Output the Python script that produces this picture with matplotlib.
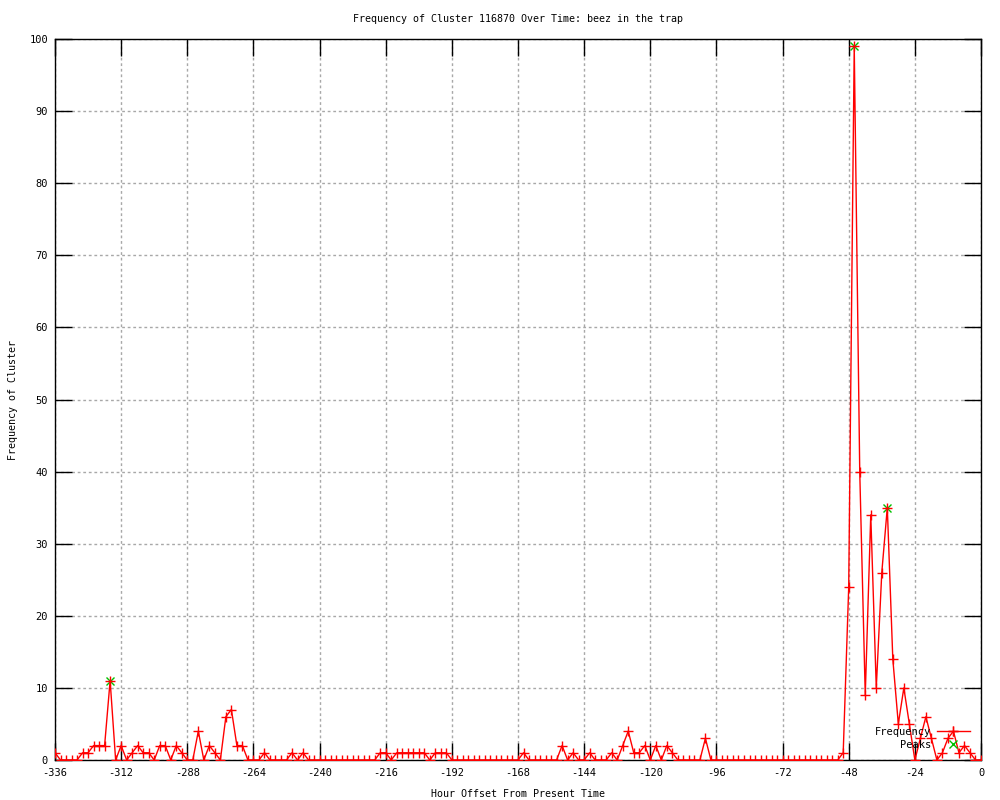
import numpy as np
import matplotlib
matplotlib.use("Agg")
import matplotlib.pyplot as plt

# hourly offsets, one sample every 2 hours
hours = list(range(-336, 1, 2))
freq = [1, 0, 0, 0, 0, 1, 1, 2, 2, 2, 11, 0, 2, 0, 1, 2, 1, 1, 0, 2,
        2, 0, 2, 1, 0, 0, 4, 0, 2, 1, 0, 6, 7, 2, 2, 0, 0, 0, 1, 0,
        0, 0, 0, 1, 0, 1, 0, 0, 0, 0, 0, 0, 0, 0, 0, 0, 0, 0, 0, 1,
        1, 0, 1, 1, 1, 1, 1, 1, 0, 1, 1, 1, 0, 0, 0, 0, 0, 0, 0, 0,
        0, 0, 0, 0, 0, 1, 0, 0, 0, 0, 0, 0, 2, 0, 1, 0, 0, 1, 0, 0,
        0, 1, 0, 2, 4, 1, 1, 2, 0, 2, 0, 2, 1, 0, 0, 0, 0, 0, 3, 0,
        0, 0, 0, 0, 0, 0, 0, 0, 0, 0, 0, 0, 0, 0, 0, 0, 0, 0, 0, 0,
        0, 0, 0, 1, 24, 99, 40, 9, 34, 10, 26, 35, 14, 5, 10, 5, 0, 3, 6, 3,
        0, 1, 3, 4, 1, 2, 1, 0, 0]

peak_hours = [-316, -46, -34]
peak_vals = [11, 99, 35]

xticks = list(range(-336, 1, 24))
yticks = list(range(0, 101, 10))

plt.rcParams['font.family'] = ['DejaVu Sans Mono']
plt.rcParams['font.size'] = 7.5

fig = plt.figure(figsize=(10, 8), dpi=100)
ax = fig.add_axes([0.055, 0.05, 0.926, 0.90125])

ax.plot(hours, freq, color='red', lw=1, marker='+', ms=7, mew=1,
        label='Frequency', zorder=3)
ax.plot(peak_hours, peak_vals, ls='none', color='#00c000', marker='x',
        ms=6, mew=1, label='Peaks', zorder=2)

ax.set_xlim(-336, 0)
ax.set_ylim(0, 100)
ax.set_xticks(xticks)
ax.set_yticks(yticks)
ax.set_xticklabels([str(t) for t in xticks])
ax.tick_params(direction='in', length=12, width=1, top=True, right=True,
               labeltop=False, labelright=False)
ax.tick_params(axis='x', pad=6)
ax.tick_params(axis='y', pad=5)
ax.grid(True, color='#a8a8a8', ls=(0, (2, 2)), lw=1)
for s in ax.spines.values():
    s.set_linewidth(1)

ax.set_title('Frequency of Cluster 116870 Over Time: beez in the trap',
             fontsize=7.2, pad=12)
ax.set_xlabel('Hour Offset From Present Time', fontsize=7.2, labelpad=8)
ax.set_ylabel('Frequency of Cluster', fontsize=7.2, labelpad=8)

ax.legend(loc='center right', bbox_to_anchor=(0.988, 0.03), frameon=False,
          markerfirst=False, borderpad=0, borderaxespad=0, handlelength=3.2,
          handletextpad=0.5, labelspacing=0.25, fontsize=7.5)

fig.savefig('out.png', dpi=100)
